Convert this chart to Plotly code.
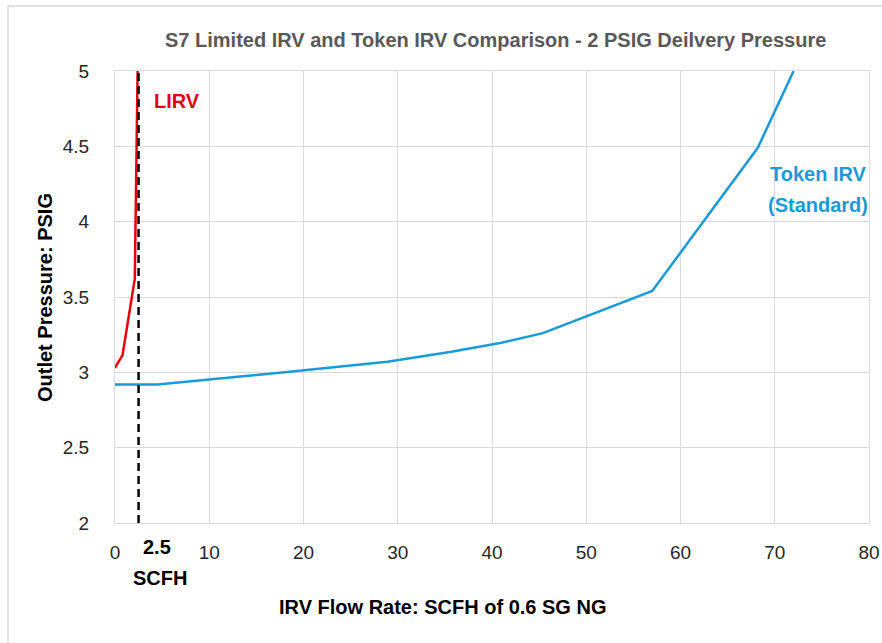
import plotly.graph_objects as go

# Data
lirv_x = [0, 0.8, 2.1, 2.4]
lirv_y = [3.03, 3.115, 3.62, 5.0]
token_x = [0, 4.5, 18, 28.9, 35.7, 41, 45.4, 57, 68.2, 72]
token_y = [2.92, 2.92, 3.0, 3.07, 3.137, 3.196, 3.26, 3.54, 4.49, 5.0]
limit_x = [2.5, 2.5]
limit_y = [2, 5]
x_ticks = [0, 10, 20, 30, 40, 50, 60, 70, 80]
y_ticks = [2, 2.5, 3, 3.5, 4, 4.5, 5]

RED = "#E8000F"
BLUE = "#1A9AD6"
GRID = "#D9D9D9"
FONT = "Liberation Sans, Arial"

fig = go.Figure()
fig.add_trace(go.Scatter(x=token_x, y=token_y, mode="lines",
                         line=dict(color=BLUE, width=2.5), showlegend=False))
fig.add_trace(go.Scatter(x=lirv_x, y=lirv_y, mode="lines",
                         line=dict(color=RED, width=2.5), showlegend=False))
fig.add_trace(go.Scatter(x=limit_x, y=limit_y, mode="lines",
                         line=dict(color="black", width=2.5, dash="8px,5px"),
                         showlegend=False, cliponaxis=False))

W, H = 882, 643
L, R, T, B = 115, 13, 71, 120
pw, ph = W - L - R, H - T - B

def px(xp):
    return (xp - L) / pw

def py(yp):
    return (H - B - yp) / ph

bold = dict(family=FONT, size=20, color="black", weight="bold")

annotations = [
    dict(text="S7 Limited IRV and Token IRV Comparison - 2 PSIG Deilvery Pressure",
         x=px(495), y=py(40), xref="paper", yref="paper", showarrow=False,
         font=dict(family="Liberation Sans Narrow, Arial Narrow, Liberation Sans", size=20,
                   color="#595959", weight="bold"),
         xanchor="center", yanchor="middle"),
    dict(text="Outlet Pressure: PSIG", x=px(45), y=py(298), xref="paper", yref="paper",
         showarrow=False, textangle=-90, font=bold,
         xanchor="center", yanchor="middle"),
    dict(text="IRV Flow Rate: SCFH of 0.6 SG NG", x=px(442), y=py(607), xref="paper", yref="paper",
         showarrow=False, font=bold, xanchor="center", yanchor="middle"),
    dict(text="2.5", x=limit_x[0], y=py(547), xref="x", yref="paper", xshift=18,
         showarrow=False, font=bold, xanchor="center", yanchor="middle"),
    dict(text="SCFH", x=limit_x[0], y=py(578), xref="x", yref="paper", xshift=21,
         showarrow=False, font=bold, xanchor="center", yanchor="middle"),
    dict(text="LIRV", x=px(177), y=py(101), xref="paper", yref="paper", showarrow=False,
         font=dict(family=FONT, size=20, color=RED, weight="bold"),
         xanchor="center", yanchor="middle"),
    dict(text="Token IRV", x=px(818), y=py(174), xref="paper", yref="paper", showarrow=False,
         font=dict(family=FONT, size=20, color=BLUE, weight="bold"),
         xanchor="center", yanchor="middle"),
    dict(text="(Standard)", x=px(818), y=py(205), xref="paper", yref="paper", showarrow=False,
         font=dict(family=FONT, size=20, color=BLUE, weight="bold"),
         xanchor="center", yanchor="middle"),
]

fig.update_layout(
    width=W, height=H,
    margin=dict(l=L, r=R, t=T, b=B, pad=0, autoexpand=False),
    plot_bgcolor="white", paper_bgcolor="white",
    annotations=annotations,
    shapes=[dict(type="rect", xref="paper", yref="paper",
                 x0=px(8), x1=px(900), y0=py(660), y1=py(6),
                 line=dict(color="#D9D9D9", width=1.5), layer="below")],
    xaxis=dict(range=[0, 80], tickvals=x_ticks, ticktext=[str(v) for v in x_ticks],
               automargin=False,
               showgrid=True, gridcolor=GRID, gridwidth=1, zeroline=False,
               showline=True, linecolor=GRID, linewidth=1, mirror=True,
               ticks="", ticklabelstandoff=12,
               tickfont=dict(family=FONT, size=19, color="#262626")),
    yaxis=dict(range=[2, 5], tickvals=y_ticks, ticktext=[str(v) for v in y_ticks],
               automargin=False,
               showgrid=True, gridcolor=GRID, gridwidth=1, zeroline=False,
               showline=True, linecolor=GRID, linewidth=1, mirror=True,
               ticks="", ticklabelstandoff=21,
               tickfont=dict(family=FONT, size=19, color="#262626")),
)

fig.write_html(
    "out.html",
    config={"displayModeBar": False},
    post_script="document.body.style.margin='0';document.body.style.overflow='hidden';",
)
